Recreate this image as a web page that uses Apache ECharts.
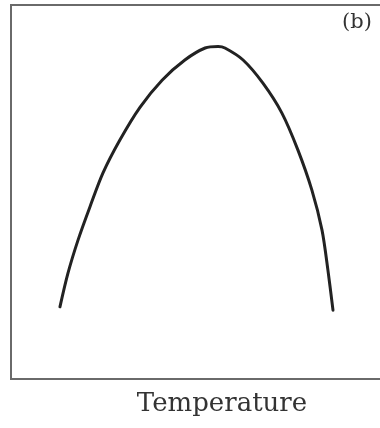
<!DOCTYPE html>
<html>
<head>
<meta charset="utf-8">
<script src="https://cdn.jsdelivr.net/npm/echarts@6/dist/echarts.min.js"></script>
<style>
html,body{margin:0;padding:0;background:#fff;}
#chart{width:380px;height:428px;}
</style>
</head>
<body>
<div id="chart"></div>
<script>
// Curve (arbitrary units, 0-100 on both axes)
const temperature = [11.6, 13.5, 15.9, 18.7, 21.8, 25.8, 30.6, 35.8, 41.2, 46.0, 49.1, 50.7, 55.0, 59.7, 64.2, 68.0, 71.3, 73.7, 75.1, 76.3];
const response    = [19.3, 28.3, 37.2, 46.0, 55.1, 63.9, 72.7, 79.9, 85.3, 88.5, 88.9, 88.5, 85.3, 79.1, 71.1, 61.2, 50.5, 39.8, 29.1, 18.4];
const xAxisName = 'Temperature';
const panelLabel = '(b)';

const chart = echarts.init(document.getElementById('chart'), null, {renderer: 'canvas'});
chart.setOption({
  animation: false,
  backgroundColor: '#ffffff',
  grid: {
    left: 11, top: 5, width: 422, height: 374,
    outerBoundsMode: 'none', containLabel: false,
    show: true, borderColor: '#6a6a6a', borderWidth: 2, backgroundColor: 'transparent'
  },
  xAxis: {
    type: 'value', min: 0, max: 100,
    name: xAxisName, nameLocation: 'middle', nameGap: 12,
    nameTextStyle: {fontFamily: 'DejaVu Serif', fontSize: 26, color: '#333', verticalAlign: 'top'},
    axisLine: {show: false}, axisTick: {show: false}, axisLabel: {show: false}, splitLine: {show: false}
  },
  yAxis: {
    type: 'value', min: 0, max: 100,
    axisLine: {show: false}, axisTick: {show: false}, axisLabel: {show: false}, splitLine: {show: false}
  },
  graphic: [{
    type: 'text', left: 342, top: 12,
    style: {text: panelLabel, fontFamily: 'DejaVu Serif', fontSize: 21, fill: '#333'}
  }],
  series: [{
    type: 'line',
    data: temperature.map((t, i) => [t, response[i]]),
    smooth: 0.3,
    showSymbol: false,
    lineStyle: {color: '#222', width: 3, cap: 'round'}
  }]
});
</script>
</body>
</html>
